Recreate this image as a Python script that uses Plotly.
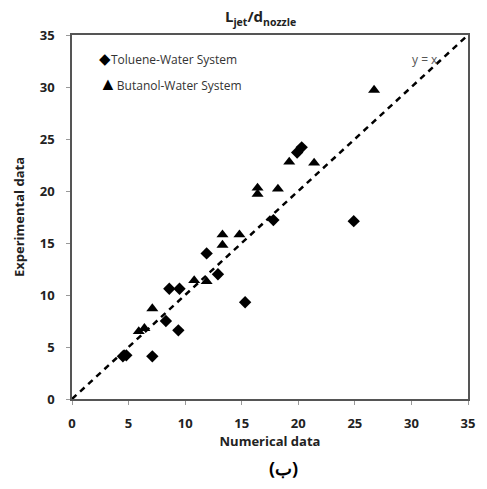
import plotly.graph_objects as go

# Toluene-Water System (diamonds)
tol_x = [4.5, 4.8, 7.1, 8.3, 9.4, 8.6, 9.5, 11.9, 12.9, 15.3, 17.8, 24.9, 19.9, 20.3]
tol_y = [4.1, 4.2, 4.1, 7.5, 6.6, 10.6, 10.6, 14.0, 12.0, 9.3, 17.2, 17.1, 23.7, 24.2]

# Butanol-Water System (triangles)
but_x = [5.9, 6.4, 7.1, 10.8, 11.9, 13.3, 13.3, 14.8, 16.4, 16.4, 18.2, 19.2, 21.4, 26.7]
but_y = [6.5, 6.8, 8.7, 11.4, 11.3, 15.8, 14.8, 15.8, 20.3, 19.7, 20.2, 22.8, 22.7, 29.7]

line_x = [0, 35]
line_y = [0, 35]

tick_vals = [0, 5, 10, 15, 20, 25, 30, 35]

FONT = "Open Sans"

fig = go.Figure()
fig.add_trace(go.Scatter(x=line_x, y=line_y, mode="lines",
                         line=dict(color="black", width=2.5, dash="6px,5px"),
                         showlegend=False, hoverinfo="skip"))
fig.add_trace(go.Scatter(x=tol_x, y=tol_y, mode="markers", name="Toluene-Water System",
                         marker=dict(symbol="diamond", size=9.5, color="black"),
                         showlegend=False))
fig.add_trace(go.Scatter(x=but_x, y=but_y, mode="markers", name="Butanol-Water System",
                         marker=dict(symbol="triangle-up", size=10.5, color="black"),
                         showlegend=False))

axis_common = dict(range=[0, 35], tickvals=tick_vals, showgrid=False, zeroline=False,
                   showline=True, linecolor="#555555", linewidth=1.5, mirror=True,
                   ticks="outside", ticklen=4, tickcolor="#999999",
                   tickfont=dict(family=FONT, size=13, color="#222222", weight="bold"))

fig.update_layout(
    width=487, height=489,
    margin=dict(l=72, r=14, t=35, b=90),
    plot_bgcolor="white", paper_bgcolor="white",
    title=dict(text="L<sub>jet</sub>/d<sub>nozzle</sub>", x=0.535, xanchor="center",
               y=0.965, yanchor="middle",
               font=dict(family=FONT, size=15, color="#222222", weight="bold")),
    xaxis=dict(**axis_common, ticklabelstandoff=8,
               title=dict(text="Numerical data", standoff=0,
                          font=dict(family=FONT, size=13, color="#222222", weight="bold"))),
    yaxis=dict(**axis_common, ticklabelstandoff=9,
               title=dict(text="Experimental data", standoff=12,
                          font=dict(family=FONT, size=13, color="#222222", weight="bold"))),
    annotations=[
        dict(x=0.062, y=0.938, xref="paper", yref="paper", xanchor="left", yanchor="middle",
             text="<span style='font-size:15px;color:black'>◆</span>Toluene-Water System",
             showarrow=False, font=dict(family=FONT, size=12, color="#333333")),
        dict(x=0.062, y=0.868, xref="paper", yref="paper", xanchor="left", yanchor="middle",
             text="<span style='font-size:18px;color:black'>▲</span>Butanol-Water System",
             showarrow=False, font=dict(family=FONT, size=12, color="#333333")),
        dict(x=31.2, y=32.6, xref="x", yref="y", text="y = x", showarrow=False,
             font=dict(family=FONT, size=12, color="#555555")),
        dict(x=0.535, y=-0.19, xref="paper", yref="paper", text="(ب)", showarrow=False,
             yanchor="middle", font=dict(family=FONT, size=18, color="black", weight="bold")),
    ],
)

fig.write_html("out.html")
